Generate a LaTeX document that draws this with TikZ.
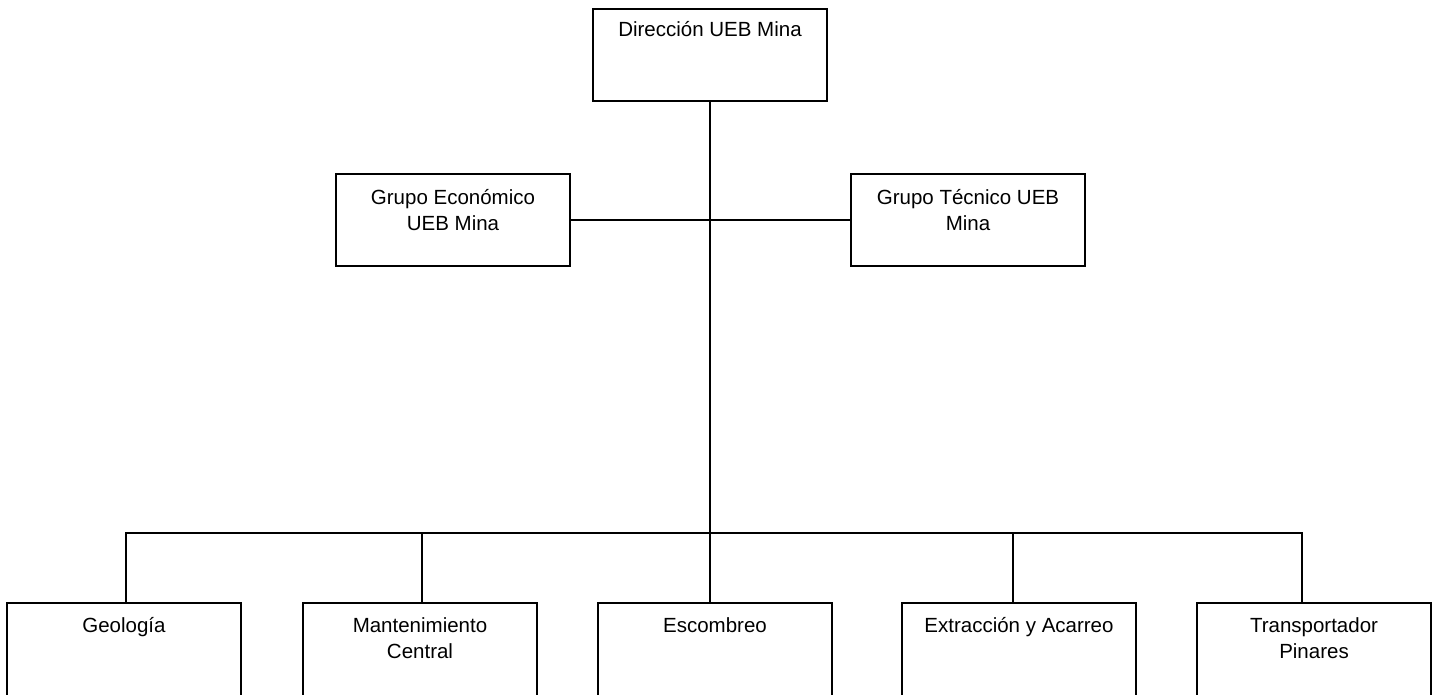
\documentclass[tikz,border=0pt]{standalone}
\usepackage{fontspec}
\setmainfont{Liberation Sans}
\begin{document}
\begin{tikzpicture}[x=1pt,y=1pt,
  unitbox/.style={draw=black, line width=1.8pt, rectangle, inner sep=0pt,
    minimum width=234pt, minimum height=92pt},
  lowbox/.style={unitbox, minimum height=100pt},
  lbl/.style={anchor=base, align=center, inner sep=0pt,
    font=\fontsize{20.5}{26}\selectfont},
  wire/.style={line width=1.8pt, line cap=rect}]
\clip (0,0) rectangle (1441,695);

% upper levels
\node[unitbox] (dir) at (710,640) {};
\node[unitbox] (eco) at (453,475) {};
\node[unitbox] (tec) at (968,475) {};

% operating units (bottom edges run past the page)
\node[lowbox] (geo) at (124,42) {};
\node[lowbox] (man) at (420,42) {};
\node[lowbox] (esc) at (715,42) {};
\node[lowbox] (ext) at (1019,42) {};
\node[lowbox] (pin) at (1314,42) {};

% labels (two-line labels sit on the baseline of their last line)
\node[lbl] (dirT) at ([yshift=-28pt]dir.north) {Dirección UEB Mina};
\node[lbl] (ecoT) at ([yshift=-57pt]eco.north) {Grupo Económico\\UEB Mina};
\node[lbl] (tecT) at ([yshift=-57pt]tec.north) {Grupo Técnico UEB\\Mina};
\node[lbl] (geoT) at ([yshift=-30pt]geo.north) {Geología};
\node[lbl] (manT) at ([yshift=-56pt]man.north) {Mantenimiento\\Central};
\node[lbl] (escT) at ([yshift=-30pt]esc.north) {Escombreo};
\node[lbl] (extT) at ([yshift=-30pt]ext.north) {Extracción y Acarreo};
\node[lbl] (pinT) at ([yshift=-56pt]pin.north) {Transportador\\Pinares};

% distribution bus
\coordinate (busL) at (126,162);
\coordinate (busR) at (1302,162);

% connectors
\draw[wire] (dir.south) -- (dir.south |- busL);
\draw[wire] (eco.east) -- (tec.west);
\draw[wire] (busL) -- (busR);
\draw[wire] (geo.north -| busL) -- (busL);
\draw[wire] ([xshift=2pt]man.north) -- ([xshift=2pt]man.north |- busL);
\draw[wire] (esc.north -| dir.south) -- (dir.south |- busL);
\draw[wire] ([xshift=-6pt]ext.north) -- ([xshift=-6pt]ext.north |- busL);
\draw[wire] (pin.north -| busR) -- (busR);
\end{tikzpicture}
\end{document}
